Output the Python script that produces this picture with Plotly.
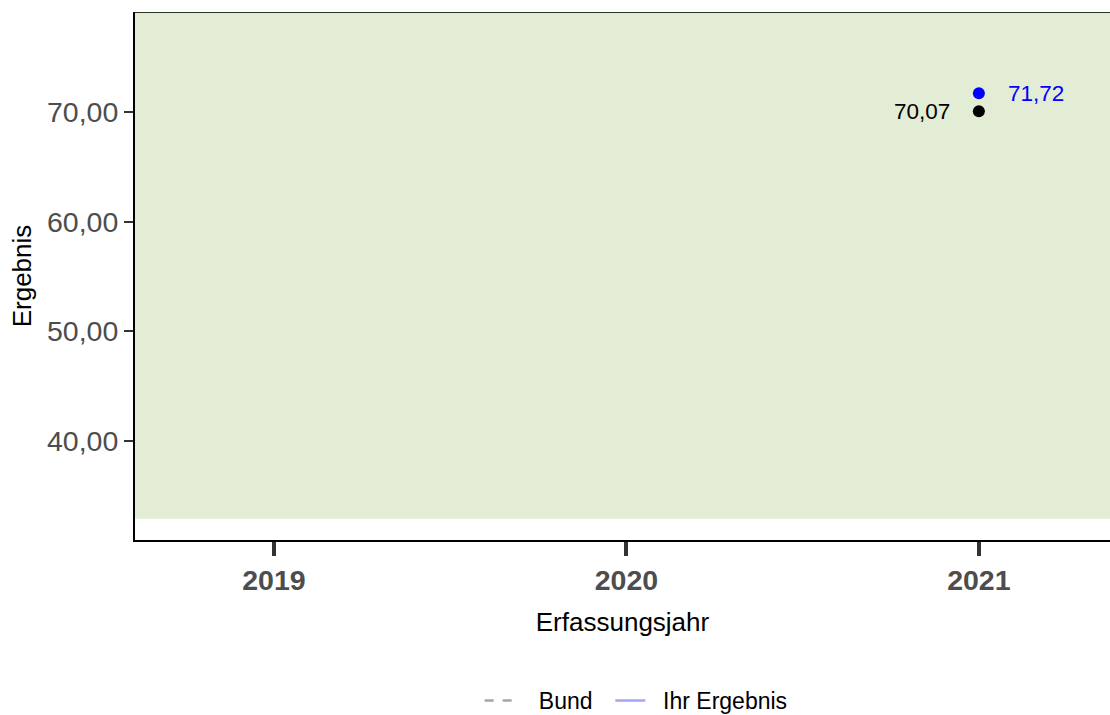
import plotly.graph_objects as go

years = [2021]
bund = [70.07]
ihr = [71.72]
bund_labels = ["70,07"]
ihr_labels = ["71,72"]
x_ticks = [2019, 2020, 2021]
x_ticklabels = ["<b>2019</b>", "<b>2020</b>", "<b>2021</b>"]
y_ticks = [40, 50, 60, 70]
y_ticklabels = ["40,00", "50,00", "60,00", "70,00"]
ref_low = 32.9

FONT = "Liberation Sans, Arial, sans-serif"
y_range = [30.97, 79.12]
x_range = [2018.606, 2021.372]
NB = "\u00a0"

fig = go.Figure()

# legend line entries
fig.add_trace(go.Scatter(x=years, y=bund, mode="lines", name=NB * 3 + "Bund" + NB * 2,
                         line=dict(color="#a6a6a6", dash="dash", width=2.5)))
fig.add_trace(go.Scatter(x=years, y=ihr, mode="lines", name=NB * 2 + "Ihr Ergebnis",
                         line=dict(color="#a4a4f4", width=2.5)))
# points
fig.add_trace(go.Scatter(x=years, y=bund, mode="markers", showlegend=False,
                         marker=dict(color="black", size=12)))
fig.add_trace(go.Scatter(x=years, y=ihr, mode="markers", showlegend=False,
                         marker=dict(color="#0000ff", size=12)))

for x, y, t in zip(years, bund, bund_labels):
    fig.add_annotation(x=x, y=y, text=t, showarrow=False, xanchor="right",
                       xshift=-27, font=dict(family=FONT, size=22.5, color="black"))
for x, y, t in zip(years, ihr, ihr_labels):
    fig.add_annotation(x=x, y=y, text=t, showarrow=False, xanchor="left",
                       xshift=27, font=dict(family=FONT, size=22.5, color="#0000ff"))

fig.add_shape(type="rect", xref="paper", x0=0, x1=1, yref="y", y0=ref_low, y1=y_range[1],
              fillcolor="#e3ecd4", line=dict(width=0), layer="below")
fig.add_shape(type="line", xref="paper", x0=0, x1=1, yref="y", y0=y_range[1], y1=y_range[1],
              line=dict(color="#2b3522", width=2), layer="below")

fig.update_layout(
    width=1110, height=715,
    margin=dict(l=135, r=0, t=12, b=175, autoexpand=False),
    plot_bgcolor="white", paper_bgcolor="white",
    font=dict(family=FONT, color="black"),
    xaxis=dict(range=x_range, tickmode="array", tickvals=x_ticks, ticktext=x_ticklabels,
               showgrid=False, zeroline=False, showline=True, linecolor="black", linewidth=2,
               ticks="outside", ticklen=14, tickwidth=4, tickcolor="#333333",
               tickfont=dict(family=FONT, size=28.5, color="#4d4d4d"),
               title=dict(text="Erfassungsjahr", font=dict(family=FONT, size=26, color="black"),
                          standoff=18)),
    yaxis=dict(range=y_range, tickmode="array", tickvals=y_ticks, ticktext=y_ticklabels,
               showgrid=False, zeroline=False, showline=True, linecolor="black", linewidth=2,
               ticks="outside", ticklen=9, tickwidth=2, tickcolor="#333333",
               tickfont=dict(family=FONT, size=28.5, color="#4d4d4d"),
               title=dict(text="Ergebnis", font=dict(family=FONT, size=26, color="black"),
                          standoff=8)),
    legend=dict(orientation="h", x=0.514, xanchor="center", y=-0.304, yanchor="middle",
                font=dict(family=FONT, size=23, color="black"), bgcolor="rgba(0,0,0,0)"),
    showlegend=True,
)

fig.write_html("out.html", config={"displayModeBar": False},
               post_script="document.body.style.margin='0';document.body.style.overflow='hidden';")
